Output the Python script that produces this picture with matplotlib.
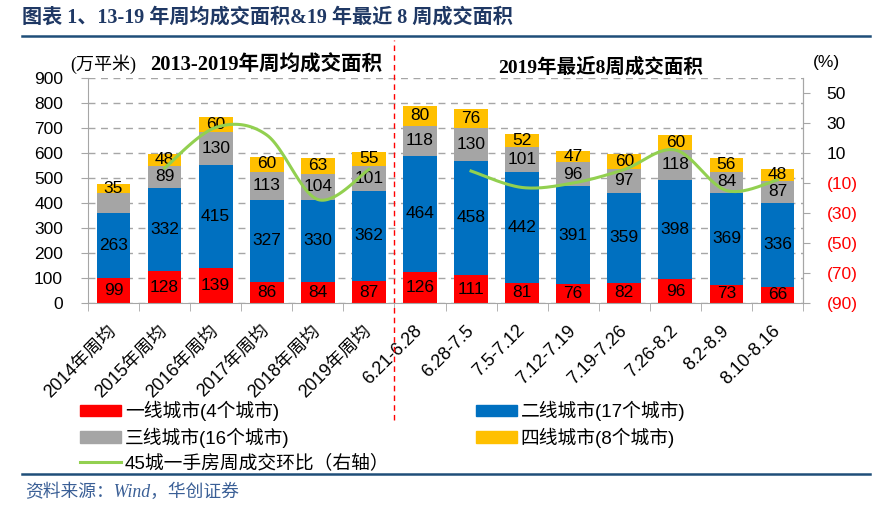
import numpy as np
import matplotlib
matplotlib.use('Agg')
import matplotlib.pyplot as plt
from matplotlib.patches import Patch
from matplotlib.lines import Line2D

plt.rcParams['font.family'] = ['Liberation Sans', 'Noto Sans CJK SC', 'DejaVu Sans']
plt.rcParams['axes.unicode_minus'] = False

# datos
cats = ['2014年周均', '2015年周均', '2016年周均', '2017年周均', '2018年周均', '2019年周均',
        '6.21-6.28', '6.28-7.5', '7.5-7.12', '7.12-7.19', '7.19-7.26', '7.26-8.2',
        '8.2-8.9', '8.10-8.16']
tier1 = [99, 128, 139, 86, 84, 87, 126, 111, 81, 76, 82, 96, 73, 66]
tier2 = [263, 332, 415, 327, 330, 362, 464, 458, 442, 391, 359, 398, 369, 336]
tier3 = [78, 89, 130, 113, 104, 101, 118, 130, 101, 96, 97, 118, 84, 87]
tier4 = [35, 48, 60, 60, 63, 55, 80, 76, 52, 47, 60, 60, 56, 48]
tier3_shown = [False] + [True] * 13
# 45城一手房周成交环比 (%), nan = sin dato
hb = [np.nan, 0, 27, 22, -21, -1, np.nan, -2, -13, -10, -1, 12, -15, -8]

names = ['一线城市(4个城市)', '二线城市(17个城市)', '三线城市(16个城市)', '四线城市(8个城市)']
line_name = '45城一手房周成交环比（右轴）'
colors = ['#FF0000', '#0070C0', '#A5A5A5', '#FFC000']
green = '#92D050'
navy = '#1F3864'
gris = '#A6A6A6'


def catmull(xs, ys, n=30):
    # curva suavizada tipo Excel entre puntos
    p = np.column_stack([xs, ys]).astype(float)
    p = np.vstack([p[0], p, p[-1]])
    out = []
    t = np.linspace(0, 1, n)[:, None]
    for i in range(1, len(p) - 2):
        p0, p1, p2, p3 = p[i - 1], p[i], p[i + 1], p[i + 2]
        seg = 0.5 * (2 * p1 + (-p0 + p2) * t + (2 * p0 - 5 * p1 + 4 * p2 - p3) * t ** 2
                     + (-p0 + 3 * p1 - 3 * p2 + p3) * t ** 3)
        out.append(seg)
    return np.vstack(out)


fig = plt.figure(figsize=(8.96, 5.12), dpi=100)
ax = fig.add_axes([88 / 896, 1 - 303 / 512, 715 / 896, 225 / 512])

x = np.arange(len(cats))
w = 0.66
bottom = np.zeros(len(cats))
series = [tier1, tier2, tier3, tier4]
for k, vals in enumerate(series):
    vals = np.array(vals)
    ax.bar(x, vals, w, bottom=bottom, color=colors[k], zorder=2)
    for i in range(len(cats)):
        if k == 2 and not tier3_shown[i]:
            continue
        ax.text(x[i], bottom[i] + vals[i] / 2, str(vals[i]), ha='center', va='center',
                fontsize=12.5, color='black', zorder=4)
    bottom = bottom + vals

ax.set_xlim(-0.5, len(cats) - 0.5)
ax.set_ylim(0, 900)
ax.set_yticks(np.arange(0, 901, 100))
ax.grid(axis='y', color=gris, linestyle=(0, (5, 4)), linewidth=1, zorder=0)
ax.set_axisbelow(True)
ax.spines['top'].set_visible(False)
for s in ['left', 'bottom', 'right']:
    ax.spines[s].set_color(gris)
ax.tick_params(axis='y', colors=gris, labelcolor='black', length=5, pad=13, labelsize=12.5)
ax.set_xticks(x)
ax.set_xticklabels(cats, rotation=45, ha='right', va='center', rotation_mode='anchor', fontsize=13)
ax.tick_params(axis='x', which='major', length=0, pad=18)
ax.set_xticks(np.arange(-0.5, len(cats), 1), minor=True)
ax.tick_params(axis='x', which='minor', length=6, color=gris)

# linea divisoria roja
ax.axvline(5.5, ymin=-0.52, ymax=1.17, color='red', linestyle=(0, (4, 3)), linewidth=1, clip_on=False)

# eje derecho
ax2 = ax.twinx()
ax2.set_ylim(-90, 60)
rt = np.arange(-90, 51, 20)
ax2.set_yticks(rt)
ax2.set_yticklabels([str(v) if v > 0 else '(%d)' % abs(v) for v in rt], fontsize=12.5)
ax2.tick_params(axis='y', colors=gris, length=5, pad=12)
for lab, v in zip(ax2.get_yticklabels(), rt):
    lab.set_color('black' if v > 0 else 'red')
for s in ['top', 'left', 'bottom']:
    ax2.spines[s].set_visible(False)
ax2.spines['right'].set_color(gris)

hb = np.array(hb)
for a, b in [(1, 6), (7, 14)]:
    c = catmull(x[a:b], hb[a:b])
    ax2.plot(c[:, 0], c[:, 1], color=green, linewidth=2.2, zorder=3)

# textos de cabecera
serif_cjk = ['Liberation Serif', 'Noto Sans CJK SC']
fig.text(22 / 896, 1 - 18 / 512, '图表 1、13-19 年周均成交面积&19 年最近 8 周成交面积',
         family=serif_cjk, fontweight='bold', fontsize=14.5, color=navy, va='center')
fig.add_artist(Line2D([22 / 896, 870 / 896], [1 - 36 / 512] * 2, color='#1F4E79', linewidth=1.8))
fig.text(70 / 896, 1 - 64 / 512, '(万平米)', family=serif_cjk, fontsize=13, va='center')
fig.text(150 / 896, 1 - 65 / 512, '2013-2019年周均成交面积', family=serif_cjk, fontweight='bold',
         fontsize=14.8, va='center')
fig.text(601 / 896, 1 - 67 / 512, '2019年最近8周成交面积', family=serif_cjk, fontweight='bold',
         fontsize=14, va='center', ha='center')
fig.text(826 / 896, 1 - 63 / 512, '(%)', fontsize=12.5, va='center', ha='center')

# leyenda
handles = [Patch(color=colors[0]), Patch(color=colors[2]), Line2D([], [], color=green, linewidth=2.2),
           Patch(color=colors[1]), Patch(color=colors[3])]
labels = [names[0], names[2], line_name, names[1], names[3]]
fig.legend(handles, labels, loc='upper left', bbox_to_anchor=(80 / 896, 1 - 401 / 512), ncol=2,
           frameon=False, fontsize=13.5, handlelength=2.2, handleheight=0.55, handletextpad=0.2,
           labelspacing=0.33, columnspacing=4.6, borderpad=0, borderaxespad=0)

# pie
fig.add_artist(Line2D([22 / 896, 870 / 896], [1 - 474 / 512] * 2, color='#1F4E79', linewidth=1.8))
fig.text(25 / 896, 1 - 492 / 512, '资料来源：Wind，华创证券', family=serif_cjk, style='italic',
         fontsize=12.8, color='#3A5F96', va='center')

fig.savefig('out.png', dpi=100)
